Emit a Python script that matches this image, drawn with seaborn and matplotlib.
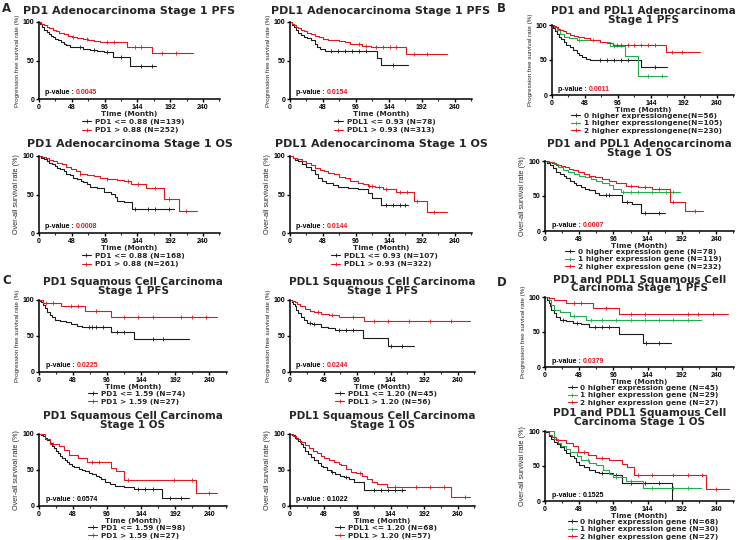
import numpy as np
import pandas as pd
import matplotlib
matplotlib.use("Agg")
import matplotlib.pyplot as plt
from matplotlib.lines import Line2D
import seaborn as sns

# ---------------- data ----------------
# each curve: step times (months), survival (%) after each step, last follow-up, censor times

# A - PD1 adeno PFS
p1_lo_t = [2, 5, 8, 11, 14, 17, 20, 24, 28, 32, 36, 40, 45, 55, 65, 75, 85, 95, 109, 133]
p1_lo_s = [97, 93, 90, 87, 84, 82, 80, 78, 76, 74, 72, 70, 68, 67, 65, 64, 62, 61, 54, 43]
p1_lo_end = 172
p1_lo_c = [60, 80, 100, 120, 150, 165]
p1_hi_t = [3, 7, 11, 15, 20, 25, 30, 36, 42, 48, 56, 64, 72, 80, 90, 129, 165]
p1_hi_s = [98, 96, 94, 92, 90, 88, 86, 84, 82, 81, 79, 78, 76, 75, 74, 68, 60]
p1_hi_end = 225
p1_hi_c = [50, 70, 100, 110, 140, 150, 180, 200]

# A - PDL1 adeno PFS
p2_lo_t = [3, 6, 9, 12, 16, 20, 25, 31, 36, 40, 44, 51, 127, 132]
p2_lo_s = [96, 93, 90, 86, 83, 80, 79, 77, 71, 68, 65, 62, 53, 44]
p2_lo_end = 172
p2_lo_c = [60, 70, 80, 90, 100, 110, 150]
p2_hi_t = [3, 6, 9, 12, 16, 20, 25, 30, 36, 42, 48, 56, 65, 72, 80, 88, 94, 105, 118, 169]
p2_hi_s = [98, 96, 94, 92, 90, 88, 86, 84, 82, 80, 78, 77, 76, 75, 74, 72, 71, 69, 68, 58]
p2_hi_end = 228
p2_hi_c = [100, 110, 125, 135, 145, 155, 180, 200]

# B - PD1 and PDL1 adeno PFS
p3_g0_t = [2, 5, 8, 10, 13, 17, 21, 26, 31, 36, 40, 43, 50, 55, 130]
p3_g0_s = [96, 91, 87, 83, 80, 76, 72, 68, 64, 60, 57, 54, 52, 50, 40]
p3_g0_end = 168
p3_g0_c = [70, 80, 90, 100, 110, 150]
p3_g1_t = [3, 7, 12, 17, 25, 36, 50, 70, 84, 106, 125]
p3_g1_s = [97, 93, 87, 83, 81, 79, 78, 76, 70, 56, 27]
p3_g1_end = 168
p3_g1_c = [40, 60, 90, 140, 160]
p3_g2_t = [3, 6, 9, 12, 16, 20, 26, 32, 38, 46, 55, 62, 70, 80, 89, 166]
p3_g2_s = [99, 97, 95, 93, 91, 89, 86, 84, 83, 81, 79, 78, 76, 74, 72, 62]
p3_g2_end = 215
p3_g2_c = [95, 100, 110, 120, 130, 140, 150, 175, 190]

# A - PD1 adeno OS
p4_lo_t = [3, 7, 11, 15, 19, 23, 27, 31, 36, 40, 45, 50, 56, 61, 65, 70, 75, 85, 95, 105, 112, 114, 125, 136]
p4_lo_s = [98, 96, 93, 91, 89, 87, 85, 83, 80, 77, 75, 72, 70, 68, 66, 63, 60, 58, 53, 51, 47, 42, 40, 31]
p4_lo_end = 197
p4_lo_c = [140, 160, 170, 190]
p4_hi_t = [5, 10, 15, 21, 27, 33, 40, 47, 54, 60, 70, 80, 90, 100, 114, 124, 134, 156, 183, 205]
p4_hi_s = [99, 97, 95, 93, 91, 89, 86, 83, 80, 77, 75, 74, 72, 70, 69, 67, 64, 59, 44, 29]
p4_hi_end = 232
p4_hi_c = [60, 100, 130, 145, 170, 190, 215]

# A - PDL1 adeno OS
p5_lo_t = [4, 8, 12, 18, 24, 31, 36, 41, 47, 53, 62, 70, 85, 99, 113, 120, 133]
p5_lo_s = [98, 95, 93, 89, 86, 82, 77, 72, 68, 65, 62, 60, 58, 57, 51.5, 46, 37]
p5_lo_end = 172
p5_lo_c = [140, 150, 160, 168]
p5_hi_t = [5, 10, 17, 23, 30, 36, 43, 50, 56, 64, 72, 80, 88, 99, 106, 113, 124, 135, 155, 181, 200]
p5_hi_s = [98, 96, 93, 91, 88, 85, 82, 80, 77.5, 76, 73, 71, 68, 65, 63, 61.5, 60, 57, 53, 41, 27]
p5_hi_end = 228
p5_hi_c = [115, 120, 130, 140, 160, 170, 185, 210]

# B - PD1 and PDL1 adeno OS
p6_g0_t = [3, 7, 11, 16, 21, 26, 30, 35, 40, 44, 50, 56, 62, 70, 76, 97, 108, 122, 134]
p6_g0_s = [97, 94, 90, 85, 82, 79, 76, 72, 69, 66, 63, 60, 58, 55, 52, 51, 42, 39, 26]
p6_g0_end = 168
p6_g0_c = [85, 90, 115, 140, 160]
p6_g1_t = [4, 8, 12, 18, 25, 32, 40, 48, 56, 64, 72, 80, 90, 95, 106]
p6_g1_s = [99, 98, 96, 92, 87, 85, 82, 79, 77, 74, 71, 69, 66, 60.5, 55.7]
p6_g1_end = 189
p6_g1_c = [110, 120, 130, 150, 170, 180]
p6_g2_t = [5, 10, 16, 22, 28, 34, 39, 46, 54, 62, 70, 80, 90, 100, 113, 130, 150, 175, 196]
p6_g2_s = [99, 97, 95, 93, 91, 89, 87, 84, 82, 79, 77, 74, 71, 68, 65, 63, 60.5, 41, 28]
p6_g2_end = 222
p6_g2_c = [120, 140, 160, 180, 210]

# C - PD1 squamous PFS
p7_lo_t = [1, 3, 5, 8, 11, 15, 18, 22, 30, 38, 45, 54, 61, 102, 134]
p7_lo_s = [99, 97, 93, 88.5, 84, 79, 76, 72.5, 71, 69, 66, 64, 62, 56, 46]
p7_lo_end = 211
p7_lo_c = [70, 75, 80, 90, 110, 120, 160, 175]
p7_hi_t = [5, 31, 65, 102]
p7_hi_s = [96, 92, 84.5, 76]
p7_hi_end = 251
p7_hi_c = [10, 20, 45, 55, 80, 120, 140, 160, 200, 215, 235]

# C - PDL1 squamous PFS
p8_lo_t = [3, 5, 7, 9, 12, 16, 20, 24, 32, 45, 55, 64, 104, 141]
p8_lo_s = [97, 95, 91, 86, 82, 77, 72, 68, 66, 63, 61, 58, 47.4, 35.8]
p8_lo_end = 177
p8_lo_c = [28, 35, 70, 80, 90, 145, 160]
p8_hi_t = [3, 7, 10, 14, 21, 28, 35, 45, 56, 70, 82, 106]
p8_hi_s = [99, 97, 94, 91, 87, 85, 82.8, 81, 79, 77, 75.8, 70.7]
p8_hi_end = 258
p8_hi_c = [40, 60, 90, 120, 140, 170, 200, 230]

# D - PD1 and PDL1 squamous PFS
p9_g0_t = [3, 5, 7, 9, 12, 16, 21, 30, 39, 50, 62, 104, 138]
p9_g0_s = [96, 91, 87, 82, 77, 72, 67, 66, 62.5, 61, 57.7, 47, 35]
p9_g0_end = 177
p9_g0_c = [25, 45, 70, 80, 90, 142, 160]
p9_g1_t = [5, 9, 12, 21, 35, 58]
p9_g1_s = [96, 89, 82, 78, 73, 67]
p9_g1_end = 219
p9_g1_c = [40, 65, 80, 100, 120, 140, 160, 180, 200]
p9_g2_t = [5, 12, 30, 67, 104]
p9_g2_s = [98, 96, 91, 84, 75.5]
p9_g2_end = 256
p9_g2_c = [40, 50, 85, 120, 140, 200, 215, 235]

# C - PD1 squamous OS
p10_lo_t = [3, 5, 8, 11, 15, 18, 21, 24, 27, 30, 33, 36, 39, 42, 46, 50, 56, 60, 65, 70, 75, 80, 84, 88, 93, 100, 107, 120, 134, 173]
p10_lo_s = [99, 97, 94, 91, 87, 84, 80, 76, 73, 70, 67, 64, 61, 58.5, 56, 54, 52, 50, 48, 46, 44, 42, 40, 37, 33, 31, 28, 26, 23, 10.6]
p10_lo_end = 212
p10_lo_c = [140, 150, 160, 185, 200]
p10_hi_t = [8, 15, 28, 35, 42, 55, 68, 102, 108, 120, 222]
p10_hi_s = [93, 86, 84, 78, 71, 67, 61, 53, 49, 35.5, 18.4]
p10_hi_end = 251
p10_hi_c = [20, 75, 85, 125, 190, 215, 240]

# C - PDL1 squamous OS
p11_lo_t = [3, 7, 11, 16, 19, 22, 26, 30, 35, 40, 44, 47, 53, 59, 65, 72, 78, 85, 92, 106]
p11_lo_s = [98, 94, 90, 86.6, 82, 77, 72.7, 68, 63.4, 60, 56, 54, 50, 47, 45, 42, 40, 37, 33, 21.8]
p11_lo_end = 165
p11_lo_c = [60, 80, 120, 130, 140, 150, 160]
p11_hi_t = [5, 9, 15, 21, 27, 33, 38, 44, 49, 56, 63, 70, 73, 80, 87, 95, 103, 111, 118, 125, 139, 231]
p11_hi_s = [97, 93.5, 89, 85, 81, 77, 74, 70, 66.7, 64, 61, 59, 56.5, 52, 47, 46, 42, 37, 34, 30, 26, 12.5]
p11_hi_end = 258
p11_hi_c = [100, 150, 180, 200, 220, 250]

# D - PD1 and PDL1 squamous OS
p12_g0_t = [2, 6, 9, 13, 17, 21, 26, 30, 35, 40, 44, 48, 55, 62, 70, 76, 95, 108, 178]
p12_g0_s = [98.6, 93, 89, 85, 81, 77, 73, 69, 65, 61, 56, 52, 48, 45, 42, 40, 36.7, 26, 0]
p12_g0_end = 178
p12_g0_c = [80, 100, 120, 140, 160]
p12_g1_t = [12, 18, 23, 30, 35, 45, 51, 62, 72, 81, 90, 95, 113, 138]
p12_g1_s = [89, 83, 78.6, 74, 70, 64, 58, 55, 52, 44, 38, 34, 28, 18.6]
p12_g1_end = 219
p12_g1_c = [60, 100, 120, 150, 180, 200]
p12_g2_t = [5, 10, 16, 30, 39, 46, 60, 72, 90, 108, 115, 125, 226]
p12_g2_s = [95, 91, 86.7, 83, 78.6, 70, 66, 61.4, 58, 53, 48.6, 36.7, 17.6]
p12_g2_end = 258
p12_g2_c = [55, 80, 130, 150, 180, 200, 220, 240]

titles = [
    "PD1 Adenocarcinoma Stage 1 PFS",
    "PDL1 Adenocarcinoma Stage 1 PFS",
    "PD1 and PDL1 Adenocarcinoma\nStage 1 PFS",
    "PD1 Adenocarcinoma Stage 1 OS",
    "PDL1 Adenocarcinoma Stage 1 OS",
    "PD1 and PDL1 Adenocarcinoma\nStage 1 OS",
    "PD1 Squamous Cell Carcinoma\nStage 1 PFS",
    "PDL1 Squamous Cell Carcinoma\nStage 1 PFS",
    "PD1 and PDL1 Squamous Cell\nCarcinoma Stage 1 PFS",
    "PD1 Squamous Cell Carcinoma\nStage 1 OS",
    "PDL1 Squamous Cell Carcinoma\nStage 1 OS",
    "PD1 and PDL1 Squamous Cell\nCarcinoma Stage 1 OS",
]
pvalues = ["0.0045", "0.0154", "0.0011", "0.0008", "0.0144", "0.0007",
           "0.0225", "0.0244", "0.0379", "0.0574", "0.1022", "0.1525"]
pval_signif = [True] * 9 + [False] * 3

legend_labels = [
    ["PD1 <= 0.88 (N=139)", "PD1 > 0.88 (N=252)"],
    ["PDL1 <= 0.93 (N=78)", "PDL1 > 0.93 (N=313)"],
    ["0 higher expressiongene(N=56)", "1 higher expressiongene(N=105)", "2 higher expressiongene(N=230)"],
    ["PD1 <= 0.88 (N=168)", "PD1 > 0.88 (N=261)"],
    ["PDL1 <= 0.93 (N=107)", "PDL1 > 0.93 (N=322)"],
    ["0 higher expression gene (N=78)", "1 higher expression gene (N=119)", "2 higher expression gene (N=232)"],
    ["PD1 <= 1.59 (N=74)", "PD1 > 1.59 (N=27)"],
    ["PDL1 <= 1.20 (N=45)", "PDL1 > 1.20 (N=56)"],
    ["0 higher expression gene (N=45)", "1 higher expression gene (N=29)", "2 higher expression gene (N=27)"],
    ["PD1 <= 1.59 (N=98)", "PD1 > 1.59 (N=27)"],
    ["PDL1 <= 1.20 (N=68)", "PDL1 > 1.20 (N=57)"],
    ["0 higher expression gene (N=68)", "1 higher expression gene (N=30)", "2 higher expression gene (N=27)"],
]

PFS_LABEL = "Progression free survival rate (%)"
OS_LABEL = "Over-all survival rate (%)"
x_ticks = [0, 48, 96, 144, 192, 240]
y_ticks = [0, 50, 100]

BLACK = "#1c1c1c"
RED = "#e3161e"
GREEN = "#1fae4a"

# curves per panel, built from the arrays above
curves = [
    [(p1_lo_t, p1_lo_s, p1_lo_end, p1_lo_c, BLACK), (p1_hi_t, p1_hi_s, p1_hi_end, p1_hi_c, RED)],
    [(p2_lo_t, p2_lo_s, p2_lo_end, p2_lo_c, BLACK), (p2_hi_t, p2_hi_s, p2_hi_end, p2_hi_c, RED)],
    [(p3_g0_t, p3_g0_s, p3_g0_end, p3_g0_c, BLACK), (p3_g1_t, p3_g1_s, p3_g1_end, p3_g1_c, GREEN),
     (p3_g2_t, p3_g2_s, p3_g2_end, p3_g2_c, RED)],
    [(p4_lo_t, p4_lo_s, p4_lo_end, p4_lo_c, BLACK), (p4_hi_t, p4_hi_s, p4_hi_end, p4_hi_c, RED)],
    [(p5_lo_t, p5_lo_s, p5_lo_end, p5_lo_c, BLACK), (p5_hi_t, p5_hi_s, p5_hi_end, p5_hi_c, RED)],
    [(p6_g0_t, p6_g0_s, p6_g0_end, p6_g0_c, BLACK), (p6_g1_t, p6_g1_s, p6_g1_end, p6_g1_c, GREEN),
     (p6_g2_t, p6_g2_s, p6_g2_end, p6_g2_c, RED)],
    [(p7_lo_t, p7_lo_s, p7_lo_end, p7_lo_c, BLACK), (p7_hi_t, p7_hi_s, p7_hi_end, p7_hi_c, RED)],
    [(p8_lo_t, p8_lo_s, p8_lo_end, p8_lo_c, BLACK), (p8_hi_t, p8_hi_s, p8_hi_end, p8_hi_c, RED)],
    [(p9_g0_t, p9_g0_s, p9_g0_end, p9_g0_c, BLACK), (p9_g1_t, p9_g1_s, p9_g1_end, p9_g1_c, GREEN),
     (p9_g2_t, p9_g2_s, p9_g2_end, p9_g2_c, RED)],
    [(p10_lo_t, p10_lo_s, p10_lo_end, p10_lo_c, BLACK), (p10_hi_t, p10_hi_s, p10_hi_end, p10_hi_c, RED)],
    [(p11_lo_t, p11_lo_s, p11_lo_end, p11_lo_c, BLACK), (p11_hi_t, p11_hi_s, p11_hi_end, p11_hi_c, RED)],
    [(p12_g0_t, p12_g0_s, p12_g0_end, p12_g0_c, BLACK), (p12_g1_t, p12_g1_s, p12_g1_end, p12_g1_c, GREEN),
     (p12_g2_t, p12_g2_s, p12_g2_end, p12_g2_c, RED)],
]

# axes boxes in pixels: left, top, right, bottom
boxes = [
    (39, 22, 220, 99), (290, 22, 472, 99), (552, 25, 734, 95),
    (39, 156, 220, 233), (290, 156, 472, 233), (545, 161, 734, 231),
    (39, 300, 227, 372), (290, 300, 475, 372), (545, 297, 734, 367),
    (39, 434, 227, 506), (290, 434, 475, 506), (545, 431, 734, 501),
]
title_pads = [6, 6, 1.5, 6.5, 6.5, 3.5, 4.5, 4.5, 4, 4.5, 4.5, 4.5]

W, H = 738, 540

sns.set_theme(style="ticks")
plt.rcParams["font.family"] = ["DejaVu Sans"]
plt.rcParams["font.weight"] = "bold"

fig = plt.figure(figsize=(W / 100, H / 100), dpi=100)


def km_curve(ax, times, surv, end, cens, color):
    """Draw one Kaplan-Meier step curve with censor ticks"""
    t = [0] + list(times) + [end]
    s = [100] + list(surv) + [surv[-1]]
    df = pd.DataFrame({"t": t, "s": s})
    sns.lineplot(data=df, x="t", y="s", ax=ax, color=color, lw=0.8,
                 drawstyle="steps-post", estimator=None, sort=False)
    steps = np.array([100] + list(surv))
    c = np.array([x for x in cens if x <= end])
    idx = np.searchsorted(np.array(times), c, side="right")
    ax.plot(c, steps[idx], ls="none", marker="|", ms=2.5, mew=0.6, color=color)


for i in range(12):
    l, t, r, b = boxes[i]
    ax = fig.add_axes([l / W, 1 - b / H, (r - l) / W, (b - t) / H])
    for crv in curves[i]:
        km_curve(ax, *crv)

    ax.set_xlim(0, 265)
    ax.set_ylim(0, 100)
    ax.set_xticks(x_ticks)
    ax.set_xticks(np.arange(24, 265, 48), minor=True)
    ax.set_yticks(y_ticks)
    sns.despine(ax=ax)
    for sp in ["left", "bottom"]:
        ax.spines[sp].set_linewidth(1.1)
        ax.spines[sp].set_color("black")
    ax.tick_params(axis="both", which="major", direction="out", length=2.5, width=1.0,
                   pad=1, labelsize=5, colors="black")
    ax.tick_params(axis="x", which="minor", direction="out", length=1.5, width=0.8)
    for lbl in ax.get_xticklabels() + ax.get_yticklabels():
        lbl.set_family("Liberation Sans")

    one_line = "\n" not in titles[i]
    ax.set_title(titles[i], fontsize=8.0 if one_line else 7.5, fontweight="bold",
                 pad=title_pads[i], linespacing=0.85)
    ax.set_xlabel("Time (Month)", fontsize=5.3, fontweight="bold", labelpad=0)
    ylab = PFS_LABEL if "PFS" in titles[i] else OS_LABEL
    ax.set_ylabel(ylab, fontsize=4.5 if ylab == PFS_LABEL else 5.2, fontweight="normal",
                  family=["Liberation Sans Narrow", "Liberation Sans"], labelpad=2)

    # p-value
    txt = ax.text(0.035, 0.035, "p-value : ", transform=ax.transAxes, fontsize=5,
                  family="Liberation Sans", va="bottom", ha="left", color="black")
    ax.annotate(pvalues[i], xycoords=txt, xy=(1, 0), va="bottom", ha="left", fontsize=5,
                family="Liberation Sans",
                color=RED if pval_signif[i] else "black")

    handles = [Line2D([0], [0], color=crv[4], lw=0.8, marker="|", ms=3, mew=0.6)
               for crv in curves[i]]
    three = len(curves[i]) == 3
    ax.legend(handles, legend_labels[i], loc="upper center",
              bbox_to_anchor=(0.52, -0.255 if three else -0.255),
              frameon=False, fontsize=5.3, handlelength=1.2, handletextpad=0.5,
              labelspacing=0.18 if three else 0.3, borderaxespad=0, borderpad=0)

# panel letters
for letter, (px, py) in zip("ABCD", [(2, 8), (497, 8), (2, 281), (497, 283)]):
    fig.text(px / W, 1 - py / H, letter, fontsize=8.5, fontweight="bold", va="center", ha="left")

fig.savefig("out.png", dpi=100)
